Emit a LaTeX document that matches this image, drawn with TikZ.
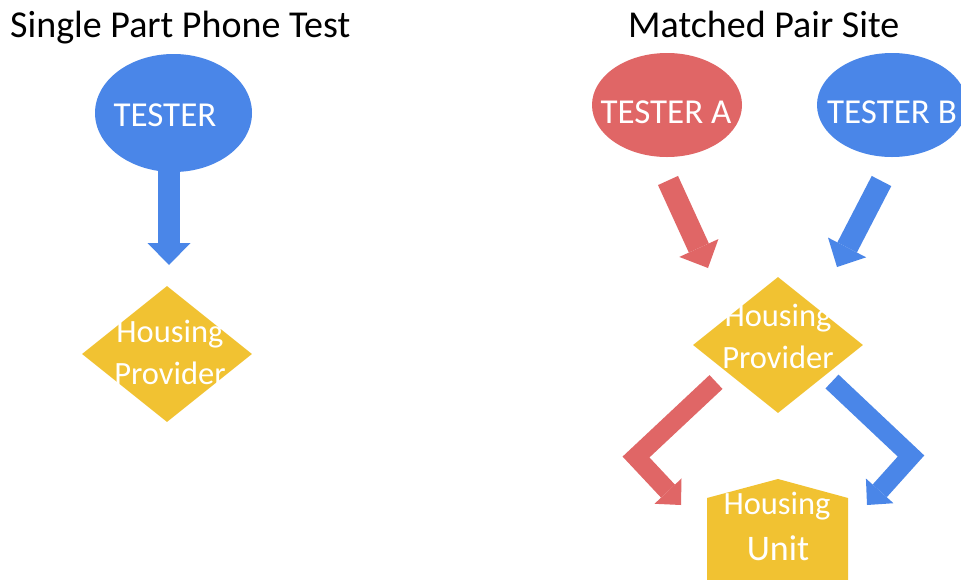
\documentclass[tikz,border=0pt]{standalone}
\usepackage{fontspec}
\setmainfont{Carlito}
\usetikzlibrary{shapes.geometric,arrows.meta}
\definecolor{tblue}{HTML}{4A86E8}
\definecolor{tred}{HTML}{E06666}
\definecolor{tyel}{HTML}{F1C232}
\tikzset{
  ttl/.style={anchor=base west, inner sep=0, text=black, font=\fontsize{38}{44}\selectfont},
  lbl/.style={anchor=base, inner sep=0, text=white},
  tfont/.style={font=\fontsize{35}{42}\selectfont},
  hfont/.style={font=\fontsize{32.5}{40}\selectfont},
  ufont/.style={font=\fontsize{36}{42}\selectfont},
  testerbox/.style={ellipse, inner sep=0, draw=none},
  provbox/.style={diamond, inner sep=0, draw=none, fill=tyel, minimum width=170pt, minimum height=136pt},
  bigarrow/.style={line width=22pt, -{Triangle[width=43pt,length=22pt,line width=0pt]}},
  bentarrow/.style={line width=19pt, line join=miter, -{Triangle[width=37pt,length=19pt,line width=0pt]}}
}
\begin{document}
\begin{tikzpicture}[x=1pt,y=-1pt]
\useasboundingbox (0,0) rectangle (961,579);
\clip (0,0) rectangle (961,579);
\fill[white] (0,0) rectangle (961,579);

% titles
\node[ttl] (title1) at (10,37.5) {Single Part Phone Test};
\node[ttl] (title2) at (628,37.5) {Matched Pair Site};

% left: single part
\node[testerbox, fill=tblue, minimum width=157pt, minimum height=118pt] (tester) at (173.5,113) {};
\node[lbl, tfont] (testerT) at (165,126) {TESTER};
\node[provbox] (hp1) at (167,354) {};
\node[lbl, hfont] (hp1a) at (170,342) {Housing};
\node[lbl, hfont] (hp1b) at (170,384) {Provider};
\coordinate (a1s) at (169,170);
\coordinate (a1t) at (169,265);
\draw[tblue, bigarrow] (a1s) -- (a1t);

% right: matched pair
\node[testerbox, fill=tred, minimum width=150pt, minimum height=104pt] (testerA) at (667,105) {};
\node[lbl, tfont] (testerAT) at (666,123) {TESTER A};
\node[testerbox, fill=tblue, minimum width=150pt, minimum height=104pt] (testerB) at (892,105) {};
\node[lbl, tfont] (testerBT) at (892,123) {TESTER B};

\node[provbox] (hp2) at (778,345) {};
\node[lbl, hfont] (hp2a) at (778,326) {Housing};
\node[lbl, hfont] (hp2b) at (778,368) {Provider};

\coordinate (ras) at (668,180.5);
\coordinate (rat) at (708,268);
\draw[tred, bigarrow] (ras) -- (rat);
\coordinate (bas) at (881.5,181);
\coordinate (bat) at (837,267);
\draw[tblue, bigarrow] (bas) -- (bat);

% housing unit
\fill[tyel] (707,590) -- (707,498) -- (778,479) -- (848,498) -- (848,590) -- cycle;
\node[lbl, hfont] (hu1) at (777,514) {Housing};
\node[lbl, ufont] (hu2) at (778,560) {Unit};

% bent arrows
\coordinate (rbs) at (716,382);
\coordinate (rbe) at (636,457);
\coordinate (rbt) at (681,505);
\draw[tred, bentarrow] (rbs) -- (rbe) -- (rbt);
\coordinate (bbs) at (832,381.5);
\coordinate (bbe) at (911,456);
\coordinate (bbt) at (867,505);
\draw[tblue, bentarrow] (bbs) -- (bbe) -- (bbt);
\end{tikzpicture}
\end{document}
